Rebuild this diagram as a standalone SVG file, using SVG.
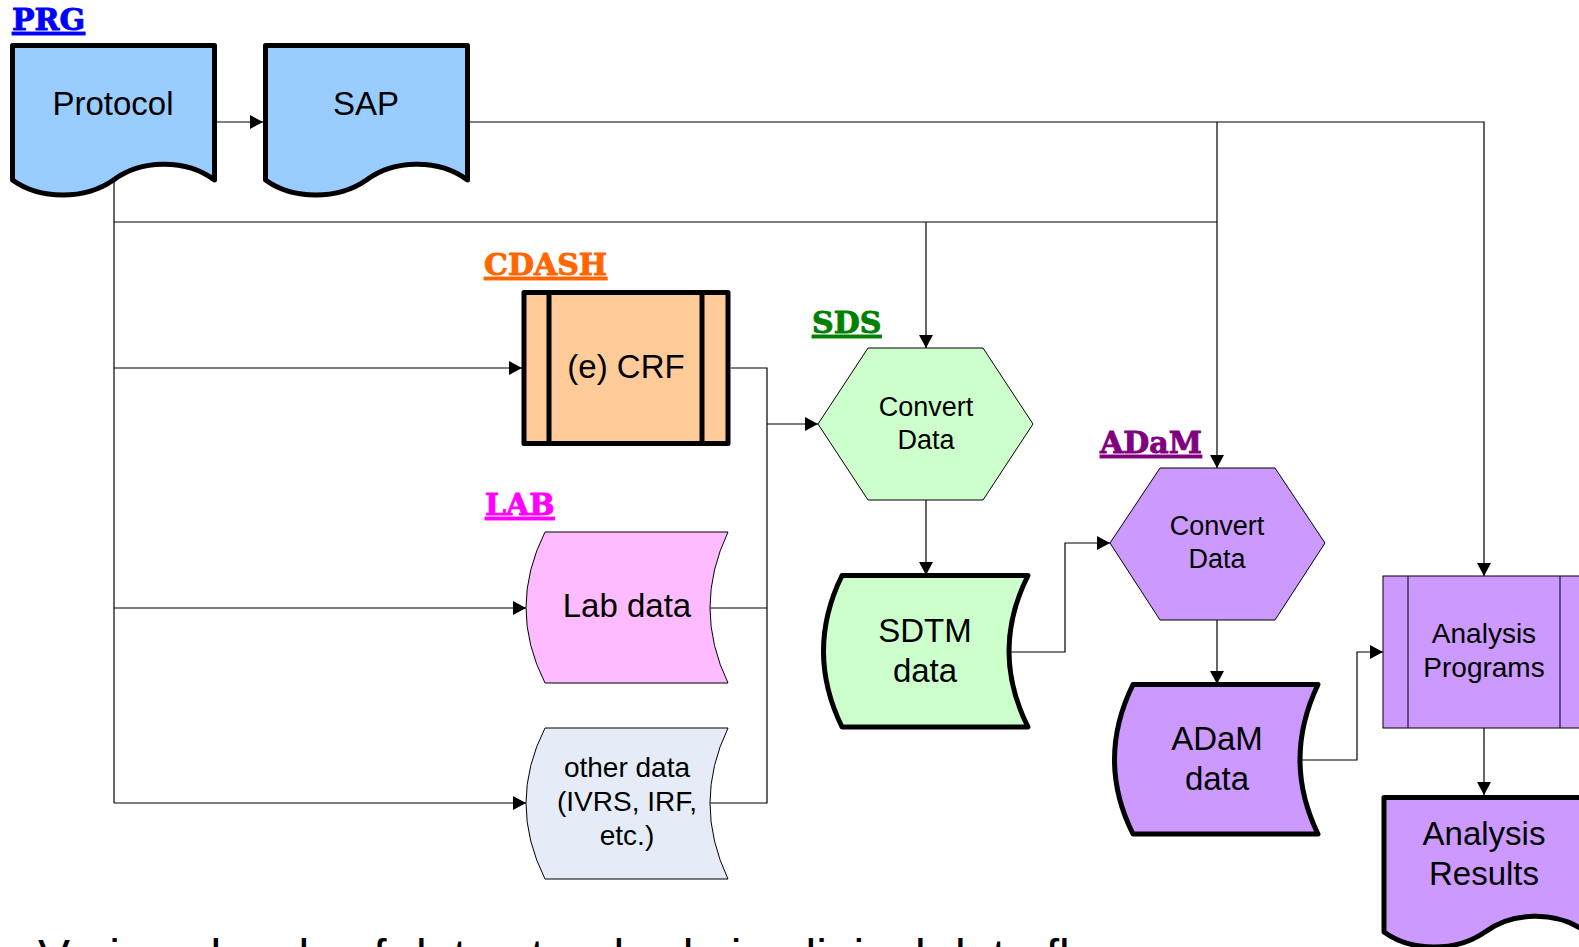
<svg xmlns="http://www.w3.org/2000/svg" width="1579" height="947" viewBox="0 0 1579 947">
<defs>
<marker id="arr" markerUnits="userSpaceOnUse" markerWidth="14" markerHeight="14" refX="13" refY="7" orient="auto">
<path d="M0,0 L13,7 L0,14 Z" fill="#000"/>
</marker>
<style>
.lbl{font-family:"DejaVu Serif","Liberation Serif",serif;font-weight:bold;font-size:30px;text-decoration:underline;stroke-width:0.9px}
.t{font-family:"Liberation Sans",Arial,sans-serif;fill:#000;text-anchor:middle}
.thick{stroke:#000;stroke-width:5;stroke-linejoin:round}
.thin{stroke:#000;stroke-width:1}
.conn{fill:none;stroke:#000;stroke-width:1.2}
</style>
</defs>
<rect width="1579" height="947" fill="#fff"/>

<g id="labels">
<text class="lbl" x="12" y="30" fill="#0000FF" stroke="#0000FF">PRG</text>
<text class="lbl" x="484" y="275" fill="#FF6600" stroke="#FF6600">CDASH</text>
<text class="lbl" x="812" y="333" fill="#008000" stroke="#008000">SDS</text>
<text class="lbl" x="485" y="515" fill="#FF00FF" stroke="#FF00FF">LAB</text>
<text class="lbl" x="1100" y="453" fill="#800080" stroke="#800080">ADaM</text>
</g>

<g id="connectors" class="conn">
<path d="M217,122 H263" marker-end="url(#arr)"/>
<path d="M468,122 H1484 V576" marker-end="url(#arr)"/>
<path d="M1217,122 V468" marker-end="url(#arr)"/>
<path d="M114,180 V803"/>
<path d="M114,222 H1217"/>
<path d="M926,222 V348" marker-end="url(#arr)"/>
<path d="M114,368 H522" marker-end="url(#arr)"/>
<path d="M114,608 H526" marker-end="url(#arr)"/>
<path d="M114,803 H526" marker-end="url(#arr)"/>
<path d="M731,368 H767 V803 H710"/>
<path d="M710,608 H767"/>
<path d="M767,424 H818" marker-end="url(#arr)"/>
<path d="M926,500 V575" marker-end="url(#arr)"/>
<path d="M1010,652 H1065 V543 H1110" marker-end="url(#arr)"/>
<path d="M1217,620 V684" marker-end="url(#arr)"/>
<path d="M1302,760 H1357 V652 H1383" marker-end="url(#arr)"/>
<path d="M1484,728 V795" marker-end="url(#arr)"/>
</g>

<g id="protocol">
<path class="thick" fill="#99CCFF" d="M12.5,45.5 H214.5 V180 C185,158 140,160 113.5,180 C85,200 40,200 12.5,180 Z"/>
<text class="t" x="113" y="115" font-size="33">Protocol</text>
</g>

<g id="sap">
<path class="thick" fill="#99CCFF" d="M265.5,45.5 H467.5 V180 C438,158 393,160 366.5,180 C338,200 293,200 265.5,180 Z"/>
<text class="t" x="366" y="115" font-size="33">SAP</text>
</g>

<g id="crf">
<rect class="thick" x="524" y="292.5" width="204" height="151" fill="#FFCC99"/>
<line class="thick" x1="549" y1="292.5" x2="549" y2="443.5"/>
<line class="thick" x1="702" y1="292.5" x2="702" y2="443.5"/>
<text class="t" x="626" y="378" font-size="33">(e) CRF</text>
</g>

<g id="labdata">
<path class="thin" fill="#FFBBFF" d="M545,532 H728 Q692,608 728,683 H545 Q507,608 545,532 Z"/>
<text class="t" x="627" y="617" font-size="33">Lab data</text>
</g>

<g id="otherdata">
<path class="thin" fill="#E5ECF7" d="M545,728 H728 Q692,803 728,879 H545 Q507,803 545,728 Z"/>
<text class="t" x="627" y="777" font-size="28">other data</text>
<text class="t" x="627" y="811" font-size="28">(IVRS, IRF,</text>
<text class="t" x="627" y="845" font-size="28">etc.)</text>
</g>

<g id="sdsconvert">
<polygon class="thin" fill="#CCFFCC" points="818,424 868,348 983,348 1033,424 983,500 868,500"/>
<text class="t" x="926" y="416" font-size="27">Convert</text>
<text class="t" x="926" y="449" font-size="27">Data</text>
</g>

<g id="sdtmdata">
<path class="thick" fill="#CCFFCC" d="M842,575.5 H1028 Q990,651 1028,727 H842 Q805,651 842,575.5 Z"/>
<text class="t" x="925" y="642" font-size="33">SDTM</text>
<text class="t" x="925" y="682" font-size="33">data</text>
</g>

<g id="adamconvert">
<polygon class="thin" fill="#CC99FF" points="1110,543 1160,468 1275,468 1325,543 1275,620 1160,620"/>
<text class="t" x="1217" y="535" font-size="27">Convert</text>
<text class="t" x="1217" y="568" font-size="27">Data</text>
</g>

<g id="adamdata">
<path class="thick" fill="#CC99FF" d="M1133,684.5 H1318 Q1282,760 1318,834 H1133 Q1096,760 1133,684.5 Z"/>
<text class="t" x="1217" y="750" font-size="33">ADaM</text>
<text class="t" x="1217" y="790" font-size="33">data</text>
</g>

<g id="analysisprograms">
<rect class="thin" x="1383" y="576" width="202" height="152" fill="#CC99FF"/>
<line class="thin" x1="1408" y1="576" x2="1408" y2="728"/>
<line class="thin" x1="1560" y1="576" x2="1560" y2="728"/>
<text class="t" x="1484" y="643" font-size="28">Analysis</text>
<text class="t" x="1484" y="677" font-size="28">Programs</text>
</g>

<g id="analysisresults">
<path class="thick" fill="#CC99FF" d="M1384,797.5 H1586 V932 C1556.5,910 1511.5,912 1485,932 C1456.5,952 1411.5,952 1384,932 Z"/>
<text class="t" x="1484" y="845" font-size="33">Analysis</text>
<text class="t" x="1484" y="885" font-size="33">Results</text>
</g>

<text x="38" y="973" font-family="Liberation Sans, Arial, sans-serif" font-size="48" fill="#000">Various levels of data standards in clinical data flow</text>
</svg>
